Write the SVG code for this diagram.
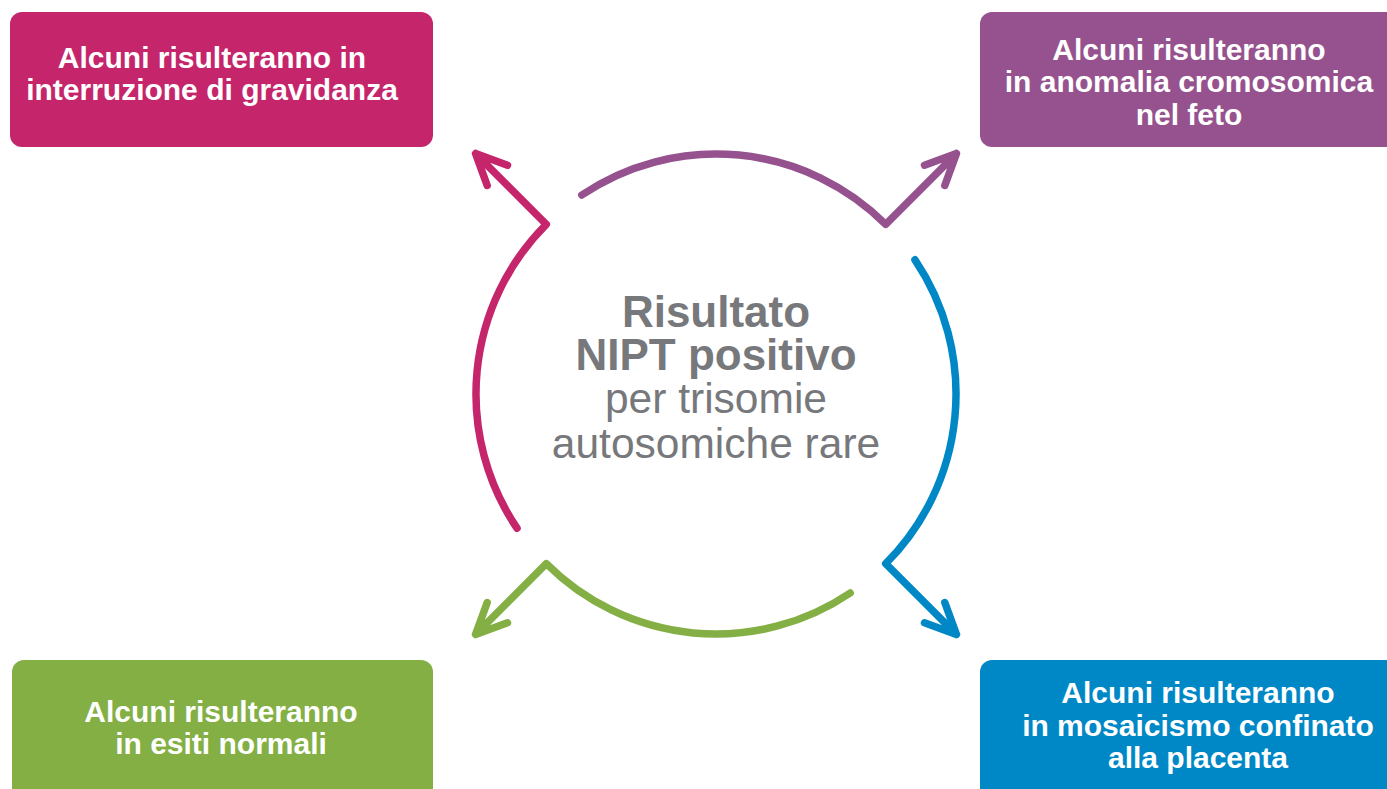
<svg xmlns="http://www.w3.org/2000/svg" width="1387" height="789" viewBox="0 0 1387 789">
<style>
.box text{font-family:"Liberation Sans",Arial,sans-serif;font-weight:bold;font-size:30px;fill:#fff;text-anchor:middle}
.c{fill:none;stroke-width:7.5;stroke-linecap:round;stroke-linejoin:round}
.ct{font-family:"Liberation Sans",Arial,sans-serif;fill:#77787B;text-anchor:middle}
</style>
<rect width="1387" height="789" fill="#fff"/>
<g id="box-interruzione" class="box">
<rect x="10" y="12" width="423" height="135" rx="12" fill="#C4256B"/>
<text x="212" y="68">Alcuni risulteranno in</text>
<text x="212" y="100">interruzione di gravidanza</text>
</g>
<g id="box-anomalia" class="box">
<rect x="980" y="12" width="430" height="135" rx="12" fill="#96528E"/>
<text x="1189" y="60">Alcuni risulteranno</text>
<text x="1189" y="92">in anomalia cromosomica</text>
<text x="1189" y="125">nel feto</text>
</g>
<g id="box-normali" class="box">
<rect x="12" y="660" width="421" height="150" rx="12" fill="#83AF45"/>
<text x="221" y="722">Alcuni risulteranno</text>
<text x="221" y="754">in esiti normali</text>
</g>
<g id="box-mosaicismo" class="box">
<rect x="980" y="660" width="430" height="150" rx="12" fill="#0087C6"/>
<text x="1198" y="703">Alcuni risulteranno</text>
<text x="1198" y="736">in mosaicismo confinato</text>
<text x="1198" y="768">alla placenta</text>
</g>
<g id="center">
<text class="ct" x="716" y="327" font-size="44" font-weight="bold">Risultato</text>
<text class="ct" x="716" y="370" font-size="44" font-weight="bold">NIPT positivo</text>
<text class="ct" x="716" y="413" font-size="42.5">per trisomie</text>
<text class="ct" x="716" y="458" font-size="42.5">autosomiche rare</text>
</g>
<g id="connectors">
<path class="c" stroke="#C4256B" d="M517,528.2 A240,240 0 0 1 546.3,224.3 L475.6,153.6 M507.5,165.2 L475.6,153.6 L487.2,185.5"/>
<path class="c" stroke="#96528E" d="M581.8,195 A240,240 0 0 1 885.7,224.3 L956.4,153.6 M944.8,185.5 L956.4,153.6 L924.5,165.2"/>
<path class="c" stroke="#0087C6" d="M915,259.8 A240,240 0 0 1 885.7,563.7 L956.4,634.4 M924.5,622.8 L956.4,634.4 L944.8,602.5"/>
<path class="c" stroke="#83AF45" d="M850.2,593 A240,240 0 0 1 546.3,563.7 L475.6,634.4 M487.2,602.5 L475.6,634.4 L507.5,622.8"/>
</g>
</svg>
